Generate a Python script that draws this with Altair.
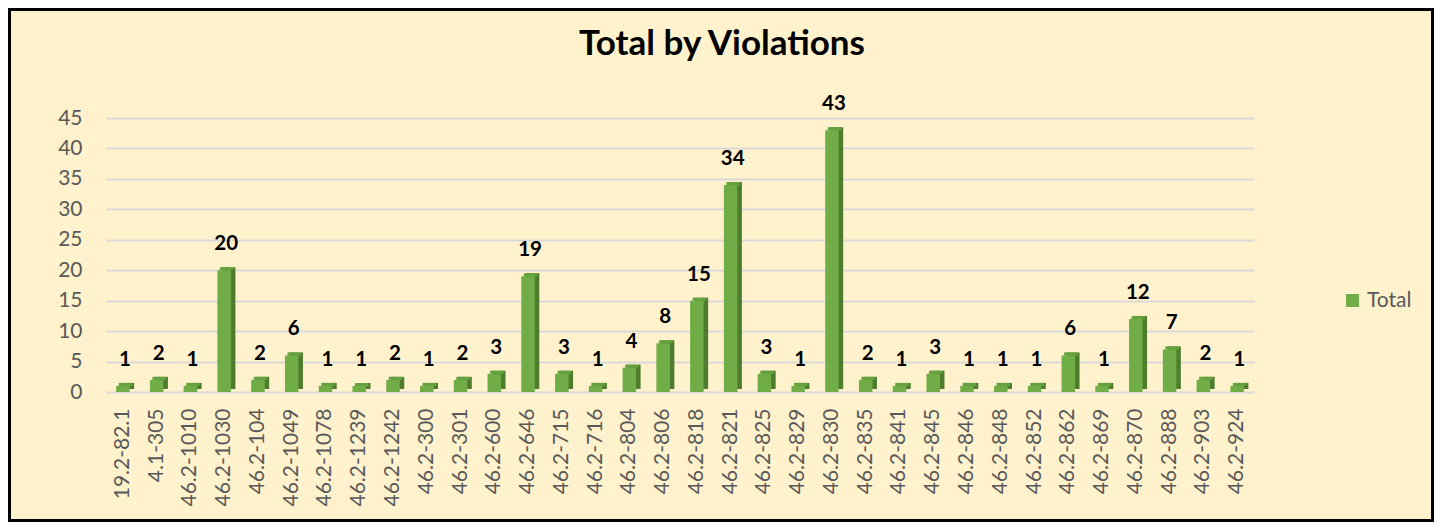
import altair as alt
import pandas as pd

violations = ["19.2-82.1", "4.1-305", "46.2-1010", "46.2-1030", "46.2-104", "46.2-1049",
              "46.2-1078", "46.2-1239", "46.2-1242", "46.2-300", "46.2-301", "46.2-600",
              "46.2-646", "46.2-715", "46.2-716", "46.2-804", "46.2-806", "46.2-818",
              "46.2-821", "46.2-825", "46.2-829", "46.2-830", "46.2-835", "46.2-841",
              "46.2-845", "46.2-846", "46.2-848", "46.2-852", "46.2-862", "46.2-869",
              "46.2-870", "46.2-888", "46.2-903", "46.2-924"]
totals = [1, 2, 1, 20, 2, 6, 1, 1, 2, 1, 2, 3, 19, 3, 1, 4, 8, 15, 34, 3, 1, 43,
          2, 1, 3, 1, 1, 1, 6, 1, 12, 7, 2, 1]
series = ["Total"] * len(violations)

df = pd.DataFrame({"Violation": violations, "Total": totals, "Series": series})

FONT = "Lato"
W, H = 1148, 274
PL, PT, PR, PB = 98, 110, 180, 130

xenc = alt.X("Violation:N", sort=violations,
             scale=alt.Scale(paddingInner=0.6, paddingOuter=0.3),
             axis=alt.Axis(title=None, labelAngle=-90, labelFont=FONT, labelFontSize=21,
                           labelColor="#595959", ticks=False, tickSize=0, domain=False,
                           grid=False, labelPadding=16))
yenc = alt.Y("Total:Q", scale=alt.Scale(domain=[0, 45], nice=False),
             axis=alt.Axis(title=None, values=list(range(0, 50, 5)), labelFont=FONT,
                           labelFontSize=21, labelColor="#595959", ticks=False, tickSize=0,
                           domain=False, grid=True, gridColor="#D9D9D9", gridWidth=2,
                           labelPadding=24))

base = alt.Chart(df).encode(x=xenc, y=yenc)

side = base.mark_bar(color="#4E7D2E", xOffset=4.5, yOffset=-3)
top = base.mark_bar(color="#66A23F", xOffset=2.5, yOffset=-3, y2Offset=0).encode(
    y2=alt.Y2("Total:Q"))
front = base.mark_bar().encode(
    color=alt.Color("Series:N", scale=alt.Scale(range=["#70AD47"]),
                    legend=alt.Legend(title=None, orient="none", legendX=1236, legendY=172,
                                      symbolType="square", symbolSize=169,
                                      symbolStrokeWidth=0, labelFont=FONT,
                                      labelFontSize=21, labelColor="#595959",
                                      labelOffset=4, padding=0))
)
labels = base.mark_text(font=FONT, fontSize=20.5, fontWeight="bold", color="black",
                        baseline="bottom", dy=-16, dx=2).encode(text="Total:Q")

border = alt.Chart(pd.DataFrame({"b": [0]})).mark_rect(
    fillOpacity=0, stroke="black", strokeWidth=3
).encode(
    x=alt.value(-PL + 1.5), x2=alt.value(W + PR - 1.5),
    y=alt.value(-PT + 1.5), y2=alt.value(H + PB - 1.5)
)

chart = alt.layer(side, top, front, labels, border).properties(
    width=W, height=H,
    title=alt.TitleParams("Total by Violations", font=FONT, fontSize=35,
                          fontWeight="bold", color="black", anchor="middle",
                          frame="group", dx=42, offset=-54),
    autosize=alt.AutoSizeParams(type="none"),
    padding={"left": PL, "top": PT, "right": PR, "bottom": PB},
    background="#FFF2CC",
).configure_view(stroke=None)

chart.save("out.html", embed_options={"renderer": "svg", "actions": False})
